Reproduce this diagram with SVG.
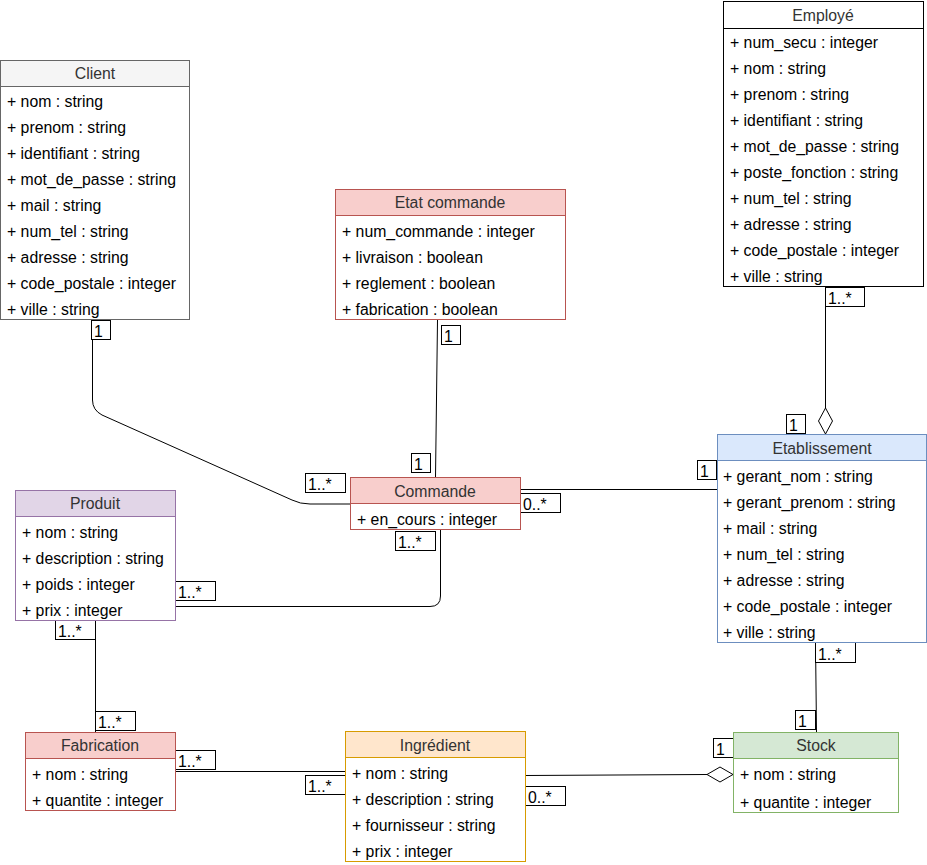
<svg xmlns="http://www.w3.org/2000/svg" width="927" height="865" viewBox="0 0 927 865">
<style>
text{font-family:"Liberation Sans",Arial,sans-serif;font-size:15.8px;fill:#000}
.h{text-anchor:middle;fill:#333}
.box{fill:#fff}
.lbl{fill:#fff;stroke:#000;stroke-width:1}
.ln{fill:none;stroke:#000;stroke-width:1}
.agg{fill:#fff;stroke:#000;stroke-width:1}
</style>
<rect width="927" height="865" fill="#fff"/>
<g id="connectors">
<path class="ln" d="M92.5 320 V400 Q92.5 410 102 415 L292 500 Q300 504 310 504 H350"/>
<path class="ln" d="M437.5 320 L435.5 477"/>
<path class="ln" d="M520 489.5 H717"/>
<path class="ln" d="M440.5 529 V596 Q440.5 606.5 430 606.5 H175"/>
<path class="ln" d="M95.5 620 V732"/>
<path class="ln" d="M175 771.5 H345"/>
<path class="ln" d="M525 775.5 L707 774.5"/>
<path class="agg" d="M707 774.5 L720 767 L733 774.5 L720 782 Z"/>
<path class="ln" d="M825.5 287 V408"/>
<path class="agg" d="M825.5 408 L832.5 421 L825.5 434 L818.5 421 Z"/>
<path class="ln" d="M815.5 642 L816.5 732"/>
<g id="labels">
<rect class="lbl" x="91.5" y="320.5" width="19" height="19"/><text x="94" y="337">1</text>
<rect class="lbl" x="441.5" y="325.5" width="19" height="19"/><text x="444" y="342">1</text>
<rect class="lbl" x="411.5" y="453.5" width="19" height="19"/><text x="414" y="470">1</text>
<rect class="lbl" x="305.5" y="473.5" width="40" height="19"/><text x="308" y="490">1..*</text>
<rect class="lbl" x="520.5" y="493.5" width="40" height="19"/><text x="523" y="510">0..*</text>
<rect class="lbl" x="395.5" y="531.5" width="40" height="19"/><text x="398" y="548">1..*</text>
<rect class="lbl" x="175.5" y="581.5" width="40" height="19"/><text x="178" y="598">1..*</text>
<rect class="lbl" x="55.5" y="620.5" width="40" height="19"/><text x="58" y="637">1..*</text>
<rect class="lbl" x="95.5" y="711.5" width="40" height="19"/><text x="98" y="728">1..*</text>
<rect class="lbl" x="175.5" y="750.5" width="40" height="19"/><text x="178" y="767">1..*</text>
<rect class="lbl" x="305.5" y="775.5" width="40" height="19"/><text x="308" y="792">1..*</text>
<rect class="lbl" x="525.5" y="786.5" width="40" height="19"/><text x="528" y="803">0..*</text>
<rect class="lbl" x="713.5" y="738.5" width="20" height="19"/><text x="716" y="755">1</text>
<rect class="lbl" x="795.5" y="710.5" width="20" height="19"/><text x="798" y="727">1</text>
<rect class="lbl" x="815.5" y="642.5" width="40" height="20"/><text x="818" y="660">1..*</text>
<rect class="lbl" x="697.5" y="460.5" width="19" height="19"/><text x="700" y="477">1</text>
<rect class="lbl" x="786.5" y="414.5" width="19" height="19"/><text x="789" y="431">1</text>
<rect class="lbl" x="825.5" y="287.5" width="39" height="19"/><text x="828" y="304">1..*</text>
</g>
</g>
<g id="client">
<rect class="box" x="0.5" y="60.5" width="189" height="259" stroke="#666"/>
<rect x="0.5" y="60.5" width="189" height="26" fill="#f5f5f5" stroke="#666"/>
<text class="h" x="95" y="79">Client</text>
<text x="7" y="107">+ nom : string</text>
<text x="7" y="133">+ prenom : string</text>
<text x="7" y="159">+ identifiant : string</text>
<text x="7" y="185">+ mot_de_passe : string</text>
<text x="7" y="211">+ mail : string</text>
<text x="7" y="237">+ num_tel : string</text>
<text x="7" y="263">+ adresse : string</text>
<text x="7" y="289">+ code_postale : integer</text>
<text x="7" y="315">+ ville : string</text>
</g>
<g id="etat-commande">
<rect class="box" x="335.5" y="189.5" width="230" height="130" stroke="#b85450"/>
<rect x="335.5" y="189.5" width="230" height="26" fill="#f8cecc" stroke="#b85450"/>
<text class="h" x="450" y="208">Etat commande</text>
<text x="342" y="237">+ num_commande : integer</text>
<text x="342" y="263">+ livraison : boolean</text>
<text x="342" y="289">+ reglement : boolean</text>
<text x="342" y="315">+ fabrication : boolean</text>
</g>
<g id="employe">
<rect class="box" x="723.5" y="1.5" width="200" height="285" stroke="#000"/>
<line x1="723.5" y1="28.5" x2="923.5" y2="28.5" stroke="#000"/>
<text class="h" x="823" y="21">Employé</text>
<text x="730" y="48">+ num_secu : integer</text>
<text x="730" y="74">+ nom : string</text>
<text x="730" y="100">+ prenom : string</text>
<text x="730" y="126">+ identifiant : string</text>
<text x="730" y="152">+ mot_de_passe : string</text>
<text x="730" y="178">+ poste_fonction : string</text>
<text x="730" y="204">+ num_tel : string</text>
<text x="730" y="230">+ adresse : string</text>
<text x="730" y="256">+ code_postale : integer</text>
<text x="730" y="282">+ ville : string</text>
</g>
<g id="etablissement">
<rect class="box" x="717.5" y="434.5" width="209" height="208" stroke="#6c8ebf"/>
<rect x="717.5" y="434.5" width="209" height="26" fill="#dae8fc" stroke="#6c8ebf"/>
<text class="h" x="822" y="454">Etablissement</text>
<text x="723" y="482">+ gerant_nom : string</text>
<text x="723" y="508">+ gerant_prenom : string</text>
<text x="723" y="534">+ mail : string</text>
<text x="723" y="560">+ num_tel : string</text>
<text x="723" y="586">+ adresse : string</text>
<text x="723" y="612">+ code_postale : integer</text>
<text x="723" y="638">+ ville : string</text>
</g>
<g id="commande">
<rect class="box" x="350.5" y="477.5" width="170" height="52" stroke="#b85450"/>
<rect x="350.5" y="477.5" width="170" height="26" fill="#f8cecc" stroke="#b85450"/>
<text class="h" x="435" y="497">Commande</text>
<text x="357" y="525">+ en_cours : integer</text>
</g>
<g id="produit">
<rect class="box" x="15.5" y="490.5" width="160" height="130" stroke="#9673a6"/>
<rect x="15.5" y="490.5" width="160" height="26" fill="#e1d5e7" stroke="#9673a6"/>
<text class="h" x="95" y="509">Produit</text>
<text x="22" y="538">+ nom : string</text>
<text x="22" y="564">+ description : string</text>
<text x="22" y="590">+ poids : integer</text>
<text x="22" y="616">+ prix : integer</text>
</g>
<g id="fabrication">
<rect class="box" x="25.5" y="732.5" width="150" height="78" stroke="#b85450"/>
<rect x="25.5" y="732.5" width="150" height="26" fill="#f8cecc" stroke="#b85450"/>
<text class="h" x="100" y="751">Fabrication</text>
<text x="32" y="780">+ nom : string</text>
<text x="32" y="806">+ quantite : integer</text>
</g>
<g id="ingredient">
<rect class="box" x="345.5" y="731.5" width="180" height="130" stroke="#d79b00"/>
<rect x="345.5" y="731.5" width="180" height="26" fill="#ffe6cc" stroke="#d79b00"/>
<text class="h" x="435" y="751">Ingrédient</text>
<text x="352" y="779">+ nom : string</text>
<text x="352" y="805">+ description : string</text>
<text x="352" y="831">+ fournisseur : string</text>
<text x="352" y="857">+ prix : integer</text>
</g>
<g id="stock">
<rect class="box" x="733.5" y="732.5" width="165" height="80" stroke="#82b366"/>
<rect x="733.5" y="732.5" width="165" height="26" fill="#d5e8d4" stroke="#82b366"/>
<text class="h" x="816" y="751">Stock</text>
<text x="740" y="780">+ nom : string</text>
<text x="740" y="808">+ quantite : integer</text>
</g>
</svg>
